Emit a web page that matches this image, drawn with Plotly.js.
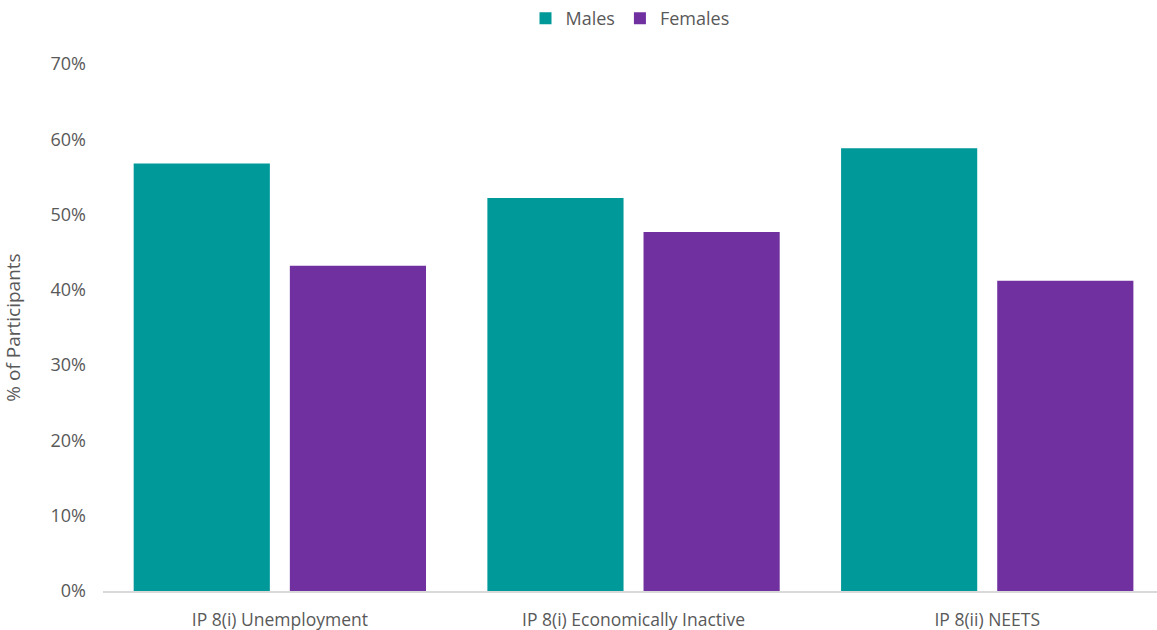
<!DOCTYPE html>
<html><head><meta charset="utf-8">
<script src="https://cdn.plot.ly/plotly-3.0.1.min.js"></script>
<style>html,body{margin:0;padding:0;background:#fff}#chart{width:1157px;height:630px}</style>
</head><body><div id="chart"></div>
<script>
const categories = ["IP 8(i) Unemployment", "IP 8(i) Economically Inactive", "IP 8(ii) NEETS"];
const males = [0.568, 0.522, 0.588];
const females = [0.432, 0.477, 0.412];
const yTicks = [0, 0.1, 0.2, 0.3, 0.4, 0.5, 0.6, 0.7];
const yTickText = ["0%", "10%", "20%", "30%", "40%", "50%", "60%", "70%"];

const font = {family: "Open Sans, Liberation Sans, sans-serif", color: "#595959"};
const data = [
  {type: "bar", name: "Males", x: categories, y: males, marker: {color: "#009999"}, hoverinfo: "y"},
  {type: "bar", name: "Females", x: categories, y: females, marker: {color: "#7030A0"}, hoverinfo: "y"}
];
const layout = {
  width: 1157, height: 630,
  margin: {l: 103, r: 0, t: 64, b: 39},
  paper_bgcolor: "#fff", plot_bgcolor: "#fff",
  barmode: "group", bargap: 0.117, bargroupgap: 0.128,
  font: Object.assign({size: 17}, font),
  showlegend: true,
  legend: {orientation: "h", x: 0.5, xanchor: "center", y: 1.0, yref: "container", yanchor: "top",
           font: Object.assign({size: 18}, font), itemwidth: 30, tracegroupgap: 0, traceorder: "normal"},
  xaxis: {range: [-0.5, 2.48], showline: true, linecolor: "#d9d9d9", linewidth: 1.5, ticks: "", showgrid: false,
          tickfont: Object.assign({size: 17.5}, font), ticklabelstandoff: 12, automargin: false},
  yaxis: {range: [0, 0.7], tickvals: yTicks, ticktext: yTickText, showgrid: false, zeroline: false,
          showline: false, ticks: "", ticklen: 0, tickfont: Object.assign({size: 18}, font),
          ticklabelstandoff: 16,
          title: {text: "% of Participants", font: Object.assign({size: 19}, font), standoff: 26},
          automargin: false}
};
Plotly.newPlot("chart", data, layout, {displayModeBar: false, staticPlot: true});
</script></body></html>
